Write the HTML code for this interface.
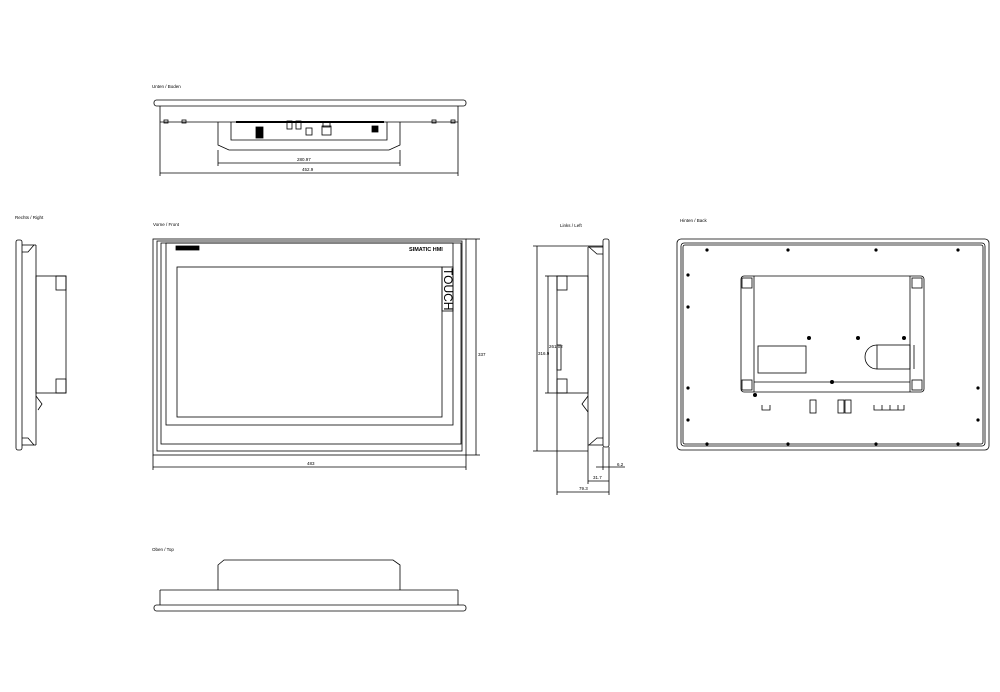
<!DOCTYPE html>
<html><head><meta charset="utf-8"><style>
html,body{margin:0;padding:0;background:#fff;}
svg{display:block;}
text{font-family:"Liberation Sans",sans-serif;fill:#000;}
</style></head><body>
<svg width="1000" height="692" viewBox="0 0 1000 692" xmlns="http://www.w3.org/2000/svg">
<g fill="none" stroke="#000" stroke-width="0.8">
<!-- Bottom view -->
<rect x="154" y="100" width="312" height="6" rx="2.5"/>
<line x1="160" y1="106" x2="160" y2="122"/><line x1="458" y1="106" x2="458" y2="122"/>
<line x1="160" y1="122" x2="458" y2="122"/>
<path d="M218 122 V145 L229 150 H389 L400 145 V122"/>
<path d="M231 122 V140 H387 V122"/>
<line x1="236" y1="122" x2="384" y2="122" stroke-width="2"/>
<rect x="256" y="127" width="7" height="11" fill="#000"/>
<rect x="287" y="121" width="5" height="8"/><rect x="296" y="121" width="5" height="8"/>
<rect x="306" y="128" width="6" height="7"/>
<rect x="322" y="126" width="9" height="9"/><rect x="323" y="122" width="7" height="5"/>
<rect x="372" y="126" width="6" height="6" fill="#000"/>
<rect x="164" y="120" width="4" height="3"/><rect x="182" y="120" width="4" height="3"/><rect x="432" y="120" width="4" height="3"/><rect x="451" y="120" width="4" height="3"/>
<line x1="218" y1="150" x2="218" y2="166"/><line x1="400" y1="150" x2="400" y2="166"/>
<line x1="218" y1="163" x2="400" y2="163"/>
<line x1="160" y1="122" x2="160" y2="176"/><line x1="458" y1="122" x2="458" y2="176"/>
<line x1="160" y1="173" x2="458" y2="173"/>
<!-- Right view -->
<rect x="16" y="240" width="6" height="210" rx="2"/>
<line x1="22" y1="245" x2="36" y2="245"/><line x1="22" y1="445" x2="36" y2="445"/>
<line x1="36" y1="245" x2="36" y2="445"/>
<path d="M22 252 L28 252 L34 245"/><path d="M22 438 L28 438 L34 445"/>
<rect x="36" y="276" width="30" height="117"/>
<rect x="56" y="276" width="10" height="14"/><rect x="56" y="379" width="10" height="14"/>
<path d="M36 396 L42 404 L38 410"/>
<!-- Front view -->
<rect x="153" y="239" width="313" height="216"/>
<rect x="157" y="241" width="305" height="210"/>
<rect x="161" y="243" width="300" height="201"/>
<rect x="166" y="243" width="287" height="182"/>
<rect x="177" y="267" width="265" height="150"/>
<rect x="442" y="267" width="11" height="44"/>
<rect x="176" y="246" width="23" height="4" fill="#000"/>
<line x1="466" y1="239" x2="480" y2="239"/><line x1="466" y1="455" x2="480" y2="455"/>
<line x1="476" y1="239" x2="476" y2="455"/>
<line x1="153" y1="455" x2="153" y2="470"/><line x1="466" y1="455" x2="466" y2="470"/>
<line x1="153" y1="467" x2="466" y2="467"/>
<!-- Left view -->
<rect x="603" y="239" width="6" height="208" rx="2"/>
<line x1="588" y1="247" x2="603" y2="247"/><line x1="588" y1="445" x2="603" y2="445"/>
<line x1="588" y1="247" x2="588" y2="445"/>
<path d="M603 254 L597 254 L589 247"/><path d="M603 438 L597 438 L589 445"/>
<rect x="557" y="276" width="31" height="117"/>
<rect x="557" y="276" width="10" height="14"/><rect x="557" y="379" width="10" height="14"/>
<rect x="557" y="345" width="4" height="25"/>
<path d="M588 396 L582 404 L588 412"/>
<line x1="533" y1="246" x2="603" y2="246"/><line x1="533" y1="451" x2="588" y2="451"/>
<line x1="537" y1="246" x2="537" y2="451"/>
<line x1="545" y1="276" x2="557" y2="276"/><line x1="545" y1="393" x2="557" y2="393"/>
<line x1="548" y1="276" x2="548" y2="393"/>
<line x1="557" y1="393" x2="557" y2="495"/><line x1="609" y1="447" x2="609" y2="495"/>
<line x1="588" y1="445" x2="588" y2="484"/><line x1="603" y1="447" x2="603" y2="470"/>
<line x1="557" y1="492" x2="609" y2="492"/>
<line x1="588" y1="481" x2="609" y2="481"/>
<line x1="596" y1="467" x2="625" y2="467"/>
<!-- Back view -->
<rect x="677" y="239" width="312" height="211" rx="4"/>
<rect x="681" y="243" width="304" height="203" rx="3"/>
<rect x="683" y="245" width="300" height="199" rx="2"/>
<rect x="741" y="276" width="183" height="116" rx="3"/>
<line x1="754" y1="276" x2="754" y2="392"/><line x1="910" y1="276" x2="910" y2="392"/>
<line x1="754" y1="382" x2="910" y2="382"/>
<rect x="758" y="346" width="48" height="27"/>
<path d="M877 345 A12 12 0 0 0 877 369"/>
<rect x="877" y="345" width="33" height="24"/><line x1="914" y1="345" x2="914" y2="369"/>
<rect x="742" y="278" width="10" height="10"/><rect x="912" y="278" width="10" height="10"/>
<rect x="742" y="380" width="10" height="10"/><rect x="912" y="380" width="10" height="10"/>
<rect x="810" y="400" width="6" height="13"/><rect x="838" y="400" width="6" height="13"/><rect x="845" y="400" width="6" height="13"/>
<path d="M762 405 v5 h8 v-5"/>
<path d="M874 405 v5 h8 v-5 M882 405 v5 h8 v-5 M890 405 v5 h8 v-5 M898 405 v5 h6 v-5"/>
</g>
<g fill="#000">
<circle cx="707" cy="250" r="1.6"/><circle cx="788" cy="250" r="1.6"/><circle cx="876" cy="250" r="1.6"/><circle cx="958" cy="250" r="1.6"/>
<circle cx="707" cy="444" r="1.6"/><circle cx="788" cy="444" r="1.6"/><circle cx="876" cy="444" r="1.6"/><circle cx="958" cy="444" r="1.6"/>
<circle cx="688" cy="275" r="1.6"/><circle cx="688" cy="307" r="1.6"/><circle cx="688" cy="388" r="1.6"/><circle cx="688" cy="420" r="1.6"/>
<circle cx="978" cy="388" r="1.6"/><circle cx="978" cy="420" r="1.6"/>
<circle cx="809" cy="338" r="2"/><circle cx="858" cy="338" r="2"/><circle cx="904" cy="338" r="2"/><circle cx="832" cy="382" r="2"/>
<circle cx="755" cy="395" r="2"/>
</g>
<g fill="none" stroke="#000" stroke-width="0.8">
<!-- Top view -->
<path d="M218 590 V565 L224 560 H393 L400 565 V590"/>
<line x1="160" y1="590" x2="458" y2="590"/>
<line x1="160" y1="590" x2="160" y2="605"/><line x1="458" y1="590" x2="458" y2="605"/>
<rect x="154" y="605" width="312" height="6" rx="2.5"/>
</g>
<g font-size="4.5">
<text x="152" y="88">Unten / Boden</text>
<text x="297" y="161">280.97</text>
<text x="302" y="171">452.9</text>
<text x="15" y="219">Rechts / Right</text>
<text x="153" y="226">Vorne / Front</text>
<text x="560" y="227">Links / Left</text>
<text x="680" y="222">Hinten / Back</text>
<text x="307" y="465">483</text>
<text x="478" y="356">337</text>
<text x="538" y="355">316.9</text>
<text x="549" y="348">261.02</text>
<text x="617" y="466">6.2</text>
<text x="593" y="479">31.7</text>
<text x="579" y="490">79.3</text>
<text x="152" y="551">Oben / Top</text>
</g>
<text x="409" y="251" font-size="5.5" font-weight="bold">SIMATIC HMI</text>
<text transform="translate(444,268) rotate(90)" font-size="12">TOUCH</text>
</svg>
</body></html>
